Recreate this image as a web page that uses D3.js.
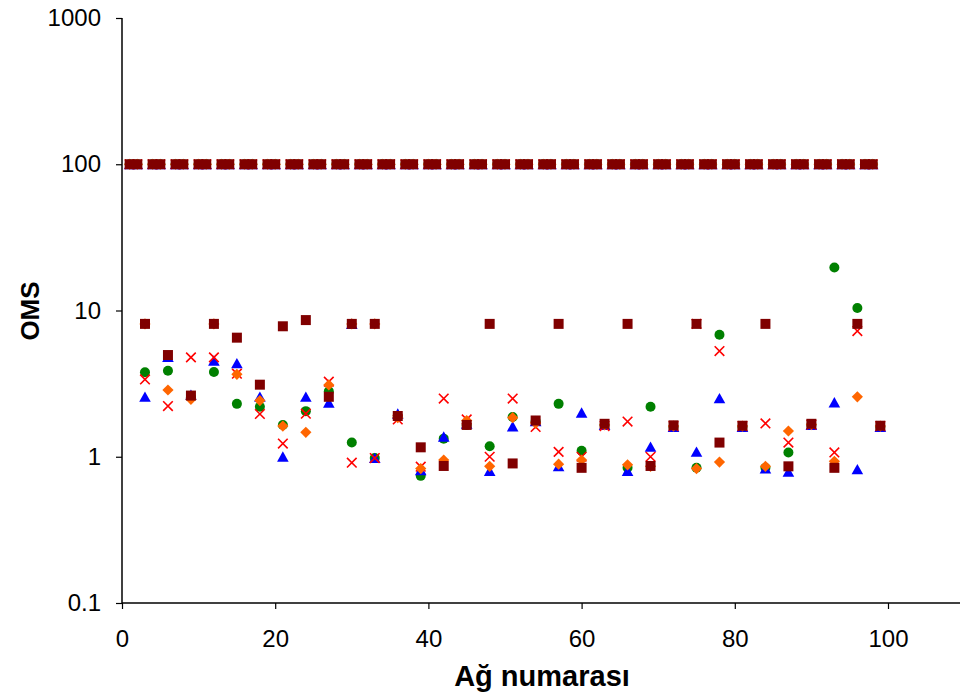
<!DOCTYPE html>
<html>
<head>
<meta charset="utf-8">
<script src="https://cdn.jsdelivr.net/npm/d3@7.9.0/dist/d3.min.js"></script>
<style>
  body { margin: 0; background: #fff; }
  svg { display: block; font-family: "Liberation Sans", Arial, sans-serif; }
</style>
</head>
<body>
<svg id="chart" width="960" height="697"></svg>
<script>
// network numbers (x) — the ones that failed sit at OMS = 100 for every series
const netFail = [1,2,4,5,7,8,10,11,13,14,16,17,19,20,22,23,25,26,28,29,31,32,34,35,37,38,40,41,43,44,46,47,
  49,50,52,53,55,56,58,59,61,62,64,65,67,68,70,71,73,74,76,77,79,80,82,83,85,86,88,89,91,92,94,95,97,98];
const failOMS = 100;
const netLow = [3,6,9,12,15,18,21,24,27,30,33,36,39,42,45,48,51,54,57,60,63,66,69,72,75,78,81,84,87,90,93,96,99];

// OMS values for netLow
const greenOMS  = [3.78,3.87,2.55,3.8,2.3,2.2,1.65,2.05,2.8,1.25,0.98,1.9,0.74,1.33,1.65,1.18,1.87,1.75,2.3,1.1,1.65,0.84,2.2,1.6,0.84,6.83,1.6,0.84,1.07,1.65,19.7,10.4,1.6];
const blueOMS   = [2.57,4.8,2.65,4.54,4.35,2.57,1.0,2.57,2.34,8.1,0.98,1.97,0.81,1.37,1.68,0.8,1.61,1.75,0.86,2.0,1.65,0.8,1.17,1.6,1.08,2.51,1.6,0.83,0.79,1.65,2.35,0.82,1.6];
const redOMS    = [3.38,2.22,4.78,4.78,3.7,1.96,1.23,1.97,3.26,0.91,0.98,1.8,0.855,2.5,1.8,1.0,2.5,1.6,1.08,1.0,1.62,1.74,1.0,1.62,8.1,5.28,1.62,1.69,1.25,1.66,1.07,7.24,1.62];
const orangeOMS = [8.1,2.86,2.47,8.1,3.66,2.42,1.62,1.47,3.1,8.1,8.1,1.85,0.83,0.95,1.77,0.86,1.85,1.7,0.89,0.95,1.65,0.88,0.86,1.62,0.83,0.92,1.62,0.86,1.5,1.66,0.93,2.57,1.62];
const maroonOMS = [8.1,4.96,2.62,8.1,6.52,3.11,7.8,8.6,2.57,8.1,8.1,1.9,1.16,0.865,1.65,8.1,0.9,1.77,8.1,0.84,1.68,8.1,0.865,1.64,8.1,1.25,1.63,8.1,0.86,1.68,0.84,8.1,1.63];

const xTicks = [0, 20, 40, 60, 80, 100];
const yTicks = [0.1, 1, 10, 100, 1000];

const svg = d3.select("#chart");
const mLeft = 122, mTop = 18, mBottom = 603, mRight = 960;

const x = d3.scaleLinear().domain([0, 109.4]).range([mLeft, mRight]);
const y = d3.scaleLog().domain([0.1, 1000]).range([mBottom, mTop]);

// marker shapes
const shapes = {
  circle: "M5,0A5,5 0 1,1 -5,0A5,5 0 1,1 5,0Z",
  triangle: "M0,-5.4L5.8,5L-5.8,5Z",
  cross: "M-4.8,-4.8L4.8,4.8M4.8,-4.8L-4.8,4.8",
  diamond: "M0,-5.6L5.6,0L0,5.6L-5.6,0Z",
  square: "M-5,-5H5V5H-5Z"
};

const series = [
  { name: "green",  values: greenOMS,  color: "#008000", shape: "circle" },
  { name: "blue",   values: blueOMS,   color: "#0000ff", shape: "triangle" },
  { name: "red",    values: redOMS,    color: "#ff0000", shape: "cross" },
  { name: "orange", values: orangeOMS, color: "#ff6600", shape: "diamond" },
  { name: "maroon", values: maroonOMS, color: "#800000", shape: "square" }
];

// axes
const yAxis = d3.axisLeft(y).tickValues(yTicks).tickSize(6).tickPadding(15)
  .tickFormat(d => d3.format("~g")(d));
const gy = svg.append("g").attr("transform", `translate(${mLeft},0)`).call(yAxis);
gy.select(".domain").attr("stroke", "#000").attr("stroke-width", 1.5).attr("d", `M0,${mBottom}V${mTop}`);
gy.selectAll(".tick line").attr("stroke", "#000").attr("stroke-width", 1.2);
gy.selectAll(".tick text").attr("font-size", 24).attr("fill", "#000")
  .attr("font-family", "'Liberation Sans', Arial, sans-serif");

const xAxis = d3.axisBottom(x).tickValues(xTicks).tickSize(6).tickPadding(21);
const gx = svg.append("g").attr("transform", `translate(0,${mBottom})`).call(xAxis);
gx.select(".domain").attr("stroke", "#000").attr("stroke-width", 1.5).attr("d", `M${mLeft},0H${mRight}`);
gx.selectAll(".tick line").attr("stroke", "#000").attr("stroke-width", 1.2);
gx.selectAll(".tick text").attr("font-size", 24).attr("fill", "#000")
  .attr("font-family", "'Liberation Sans', Arial, sans-serif");

// titles
svg.append("text")
  .attr("transform", "translate(39,311) rotate(-90)")
  .attr("text-anchor", "middle")
  .attr("font-size", 26).attr("font-weight", "bold")
  .text("OMS");

svg.append("text")
  .attr("x", 542).attr("y", 686)
  .attr("text-anchor", "middle")
  .attr("font-size", 29).attr("font-weight", "bold")
  .text("Ağ numarası");

// points
const plot = svg.append("g");
series.forEach(s => {
  const pts = netFail.map(n => ({ n, v: failOMS }))
    .concat(netLow.map((n, i) => ({ n, v: s.values[i] })));
  const g = plot.append("g").attr("class", s.name);
  g.selectAll("path")
    .data(pts)
    .join("path")
    .attr("transform", d => `translate(${x(d.n)},${y(d.v)})`)
    .attr("d", shapes[s.shape])
    .attr("fill", s.shape === "cross" ? "none" : s.color)
    .attr("stroke", s.shape === "cross" ? s.color : "none")
    .attr("stroke-width", 1.6);
});
</script>
</body>
</html>
